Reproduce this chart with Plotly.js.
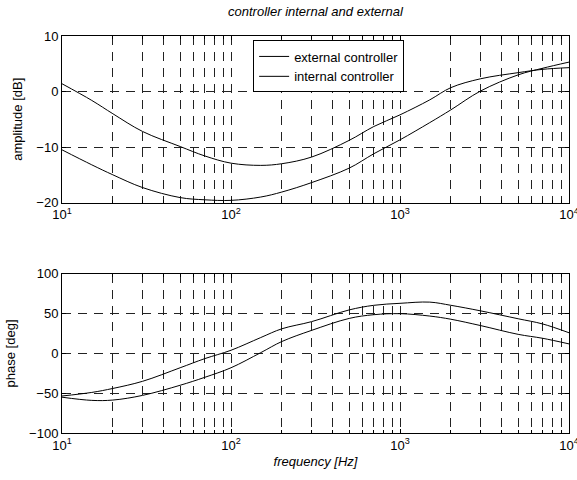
<!DOCTYPE html>
<html><head><meta charset="utf-8">
<script src="https://cdn.plot.ly/plotly-3.0.1.min.js"></script>
<style>body{margin:0;background:#fff}#p{width:577px;height:480px}</style>
</head><body><div id="p"></div>
<script>
const freq = [10, 15, 20, 30, 50, 70, 100, 150, 200, 300, 500, 700, 1000, 1500, 2000, 3000, 5000, 7000, 10000];
const ampExternal = [1.4, -1.6, -4.0, -7.2, -9.9, -11.6, -12.9, -13.3, -13.0, -11.8, -8.8, -6.3, -4.2, -1.5, 0.7, 2.3, 3.4, 4.0, 4.3];
const ampInternal = [-10.5, -13.2, -15.0, -17.3, -19.1, -19.5, -19.6, -19.0, -18.1, -16.4, -13.8, -11.2, -8.7, -5.6, -3.3, 0.1, 3.0, 4.2, 5.3];
const phaseExternal = [-53.5, -49, -44, -35, -18, -6.5, 4, 20, 31, 40, 54.7, 60.5, 63, 64.5, 60.5, 53.5, 43.6, 37, 26];
const phaseInternal = [-55, -59, -58.6, -52.7, -40, -30, -18, 1, 15, 29, 44, 48.7, 50, 47, 43, 35, 24, 19, 12];
const majorTicks = [10, 100, 1000, 10000];
const majorLabels = ['10<sup>1</sup>', '10<sup>2</sup>', '10<sup>3</sup>', '10<sup>4</sup>'];
const ampTicks = [-20, -10, 0, 10];
const phaseTicks = [-100, -50, 0, 50, 100];

const minorVals = [];
for (const d of [10, 100, 1000]) {
  for (let k = 2; k <= 9; k++) minorVals.push(d * k);
}

const font = {family: 'Liberation Sans, Arial, sans-serif', size: 13, color: '#000'};
const line = {color: '#000', width: 1, shape: 'spline'};
const traces = [
  {x: freq, y: ampExternal, type: 'scatter', mode: 'lines', line: line, name: 'external controller', xaxis: 'x', yaxis: 'y'},
  {x: freq, y: ampInternal, type: 'scatter', mode: 'lines', line: line, name: 'internal controller', xaxis: 'x', yaxis: 'y'},
  {x: freq, y: phaseExternal, type: 'scatter', mode: 'lines', line: line, showlegend: false, xaxis: 'x2', yaxis: 'y2'},
  {x: freq, y: phaseInternal, type: 'scatter', mode: 'lines', line: line, showlegend: false, xaxis: 'x2', yaxis: 'y2'}
];
const gridStyle = {gridcolor: '#222', griddash: '9px,7px', gridwidth: 1};
const xax = (anchor) => ({
  type: 'log', range: [1, 4], tickmode: 'array', tickvals: majorTicks, ticktext: majorLabels,
  showgrid: true, ...gridStyle,
  minor: {tickmode: 'array', tickvals: minorVals, showgrid: true, ...gridStyle, ticks: 'inside', ticklen: 3, tickcolor: '#000'},
  showline: true, linecolor: '#000', linewidth: 1, mirror: 'ticks',
  ticks: 'inside', ticklen: 4, tickcolor: '#000', zeroline: false,
  ticklabeloverflow: 'allow',
  tickfont: font, anchor: anchor
});
const yax = (range, tv, dom, title, anchor) => ({
  range: range, tickvals: tv, domain: dom, anchor: anchor,
  showgrid: true, ...gridStyle,
  showline: true, linecolor: '#000', linewidth: 1, mirror: 'ticks',
  ticks: 'inside', ticklen: 4, tickcolor: '#000', zeroline: false,
  tickfont: font,
  title: {text: title, font: {...font, size: 13}, standoff: 10}
});
const layout = {
  width: 577, height: 480,
  margin: {l: 62, r: 8, t: 35.5, b: 46.5},
  paper_bgcolor: '#fff', plot_bgcolor: '#fff',
  font: font,
  title: {text: '<i>controller internal and external</i>', font: {...font, size: 13}, x: 0.5, xref: 'paper', xanchor: 'center', y: 0.985, yanchor: 'top'},
  xaxis: xax('y'),
  xaxis2: {...xax('y2'), title: {text: '<i>frequency [Hz]</i>', font: font, standoff: 5}},
  yaxis: yax([-20, 10], ampTicks, [0.5804, 1], 'amplitude [dB]', 'x'),
  yaxis2: yax([-100, 100], phaseTicks, [0, 0.4008], 'phase [deg]', 'x2'),
  showlegend: true,
  legend: {x: 0.377, y: 0.9887, xanchor: 'left', yanchor: 'top', bgcolor: '#fff', bordercolor: '#000', borderwidth: 1, font: font, tracegroupgap: 0, itemwidth: 30}
};
Plotly.newPlot('p', traces, layout, {displayModeBar: false, staticPlot: true});
</script></body></html>
